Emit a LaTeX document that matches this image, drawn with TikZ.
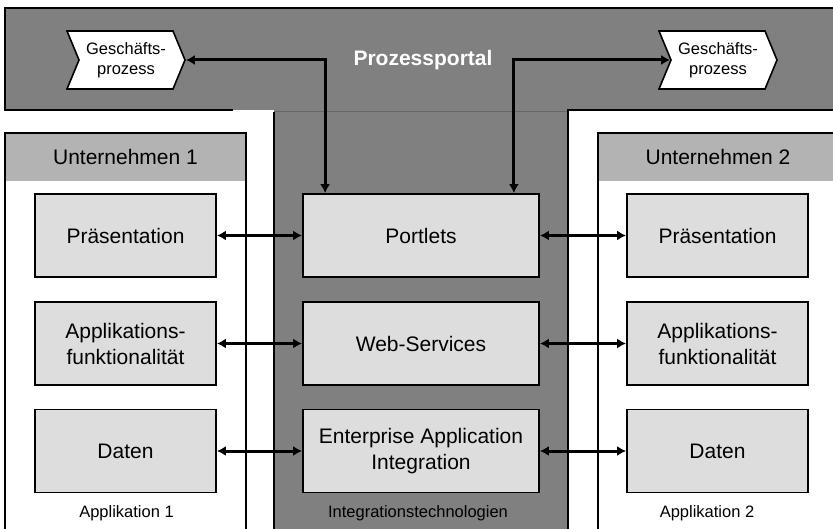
\documentclass[tikz,border=0pt]{standalone}
\usepackage{fontspec}
\setmainfont{Liberation Sans}
\usetikzlibrary{arrows.meta}
\usetikzlibrary{shapes.symbols}
\definecolor{portalgray}{HTML}{808080}
\definecolor{seamgray}{HTML}{666666}
\definecolor{headgray}{HTML}{B3B3B3}
\definecolor{boxgray}{HTML}{DDDDDD}

\begin{document}
\begin{tikzpicture}[
     x=1pt,y=-1pt,
     layer/.style={draw,line width=1.8pt,fill=boxgray,minimum width=181pt,minimum height=83pt,
       inner sep=0pt,align=center,font=\fontsize{21}{26}\selectfont},
     tech/.style={layer,minimum width=236pt},
     proc/.style={signal,signal from=west,signal to=east,signal pointer angle=135,draw,
       line width=1.6pt,fill=white,minimum width=118pt,minimum height=58pt,inner sep=0pt,
       align=center,font=\fontsize{16.5}{20}\selectfont},
     caption/.style={font=\fontsize{16.5}{20}\selectfont},
     link/.style={{Latex[length=9pt,width=10pt]}-{Latex[length=9pt,width=10pt]},line width=3pt}
   ]
   \path[use as bounding box] (0,0) rectangle (833,529);
   % Portal band and stem.
   \fill[portalgray] (5,8) rectangle (840,110);
   \fill[portalgray] (274,110) rectangle (568,540);
   \draw[seamgray,line width=1pt] (274,112) -- (568,112);
   \draw[line width=2pt] (233,110) -- (5,110) -- (5,8) -- (840,8);
   \draw[line width=2pt] (274,112) -- (274,540);
   \draw[line width=2pt] (568,540) -- (568,110) -- (840,110);
   % Companies.
   \fill[white] (5,133) rectangle (246,540);
   \fill[headgray] (5,133) rectangle (246,181);
   \draw[line width=2pt] (5,133) rectangle (246,540);
   \fill[white] (598,133) rectangle (840,540);
   \fill[headgray] (598,133) rectangle (840,181);
   \draw[line width=2pt] (598,133) rectangle (840,540);
   \node[font=\fontsize{21}{25}\selectfont] (comp1) at (125.5,157) {Unternehmen 1};
   \node[font=\fontsize{21}{25}\selectfont] (comp2) at (718,157) {Unternehmen 2};
   % Processes.
   \node[proc] (proc1) at (126,60) {Geschäfts-\\prozess};
   \node[proc] (proc2) at (718,60) {Geschäfts-\\prozess};
   \node[text=white,font=\bfseries\fontsize{21}{25}\selectfont] (portal) at (423,60) {Prozessportal};
   % Layers.
   \node[layer] (pres1) at (125.5,235.5) {Präsentation};
   \node[tech] (port) at (421,235.5) {Portlets};
   \node[layer] (pres2) at (717.5,235.5) {Präsentation};
   \node[layer] (func1) at (125.5,343.5) {Applikations-\\funktionalität};
   \node[tech] (ws) at (421,343.5) {Web-Services};
   \node[layer] (func2) at (717.5,343.5) {Applikations-\\funktionalität};
   \node[layer] (data1) at (125.5,451) {Daten};
   \node[tech] (eai) at (421,451) {Enterprise Application\\Integration};
   \node[layer] (data2) at (717.5,451) {Daten};
   \node[caption] (app1) at (126.5,513) {Applikation 1};
   \node[caption] (integ) at (418,513) {Integrationstechnologien};
   \node[caption] (app2) at (707,513) {Applikation 2};
   % Links.
   \draw[link] (proc1.east) -| ([xshift=23pt]port.north west);
   \draw[link] (proc2.west) -| ([xshift=-26pt]port.north east);
   \foreach \a/\b/\c in {pres1/port/pres2,func1/ws/func2,data1/eai/data2} {
     \draw[link] (\a) -- (\b);
     \draw[link] (\b) -- (\c);
   }
 \end{tikzpicture}
\end{document}
